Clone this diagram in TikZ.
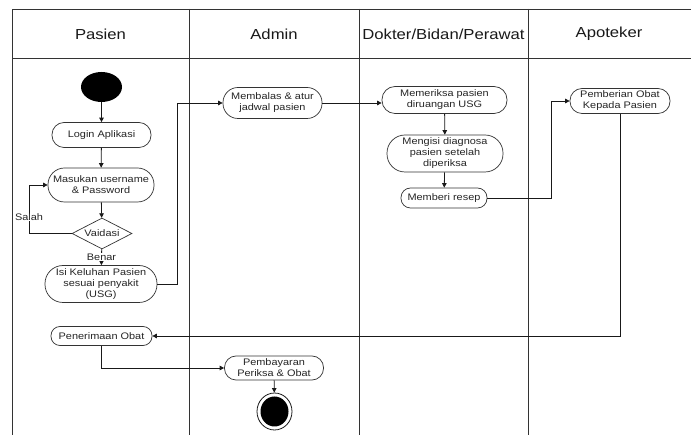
\documentclass[tikz,border=0pt]{standalone}
\usepackage{fontspec}
\setmainfont[FakeStretch=1.15]{Liberation Sans}
\usetikzlibrary{shapes.geometric,arrows.meta}
\begin{document}
\begin{tikzpicture}[x=1pt,y=-1pt,
  lane/.style={draw=black!80, line width=0.9pt},
  act/.style={draw=black!80, line width=0.7pt, align=center, inner sep=0pt,
    text=black!85, font=\fontsize{9.5}{11}\selectfont},
  lbl/.style={text=black!85, inner sep=0.5pt, font=\fontsize{9.5}{11}\selectfont},
  head/.style={text=black!90, font=\fontsize{14.5}{16}\selectfont},
  arr/.style={draw=black!90, line width=0.8pt, -{Triangle[length=4.5pt,width=4.5pt]}}]
\useasboundingbox (0,0) rectangle (691,435);
\fill[white] (0,0) rectangle (691,435);
% swimlanes
\draw[lane] (691,9) -- (12,9) -- (12,435);
\draw[lane] (12,58.5) -- (691,58.5);
\draw[lane] (189,9) -- (189,435);
\draw[lane] (359,9) -- (359,435);
\draw[lane] (528,9) -- (528,435);
\node[head] (hpas) at (100.5,34) {Pasien};
\node[head] (hadm) at (274,34) {Admin};
\node[head] (hdok) at (443.5,34) {Dokter/Bidan/Perawat};
\node[head] (hapo) at (609,34) {Apoteker};
% Pasien
\node[ellipse, fill=black, minimum width=41pt, minimum height=30pt, inner sep=0pt] (start) at (101.5,87) {};
\node[act, minimum width=99pt, minimum height=25pt, rounded corners=12pt] (login) at (101.5,135) {Login Aplikasi};
\node[act, minimum width=106pt, minimum height=34pt, rounded corners=16.5pt] (masuk) at (101,185) {Masukan username\\\& Password};
\node[diamond, draw=black!80, line width=0.7pt, minimum width=60pt, minimum height=31pt, inner sep=0pt,
  label={[lbl]center:Vaidasi}] (val) at (102,233.5) {};
\node[act, minimum width=112pt, minimum height=37pt, rounded corners=18pt] (isi) at (101,284) {Isi Keluhan Pasien\\sesuai penyakit\\(USG)};
\node[act, minimum width=101pt, minimum height=19pt, rounded corners=9pt] (pener) at (101.5,336) {Penerimaan Obat};
% Admin
\node[act, minimum width=99pt, minimum height=31pt, rounded corners=15pt] (memb) at (272.5,103) {Membalas \& atur\\jadwal pasien};
\node[act, minimum width=99pt, minimum height=24pt, rounded corners=11.5pt] (bayar) at (274,368) {Pembayaran\\Periksa \& Obat};
\node[ellipse, draw=black!90, line width=0.8pt, minimum width=35pt, minimum height=37pt, inner sep=0pt,
  path picture={\fill[black] (path picture bounding box.center) ellipse (14pt and 15pt);}] (end) at (274.5,411.5) {};
% Dokter
\node[act, minimum width=125pt, minimum height=27pt, rounded corners=13pt] (meme) at (444.5,100) {Memeriksa pasien\\diruangan USG};
\node[act, minimum width=116pt, minimum height=37pt, rounded corners=18pt] (meng) at (445,153.5) {Mengisi diagnosa\\pasien setelah\\diperiksa};
\node[act, minimum width=86pt, minimum height=20pt, rounded corners=9.5pt] (resep) at (444,198) {Memberi resep};
% Apoteker
\node[act, minimum width=100pt, minimum height=25pt, rounded corners=12pt] (pemb) at (620,101) {Pemberian Obat\\Kepada Pasien};
% connectors
\draw[arr] (start) -- (login);
\draw[arr] (login) -- (masuk);
\draw[arr] (masuk) -- (val);
\draw[arr] (val.west) -- ++(-42,0) |- (masuk.west);
\node[lbl, fill=white] (salah) at (29,217.5) {Salah};
\draw[arr] (val) -- node[lbl, fill=white] (benar) {Benar} (isi);
\draw[arr] (isi.east) -- ++(20,0) |- (memb.west);
\draw[arr] (memb.east) -- (memb.east -| meme.west);
\draw[arr] (meme) -- (meng);
\draw[arr] (meng) -- (resep);
\draw[arr] (resep.east) -- ++(64,0) |- (pemb.west);
\draw[arr] (pemb.south) |- (pener.east);
\draw[arr] (pener.south) |- (bayar.west);
\draw[arr] (bayar) -- (end);
\end{tikzpicture}
\end{document}
